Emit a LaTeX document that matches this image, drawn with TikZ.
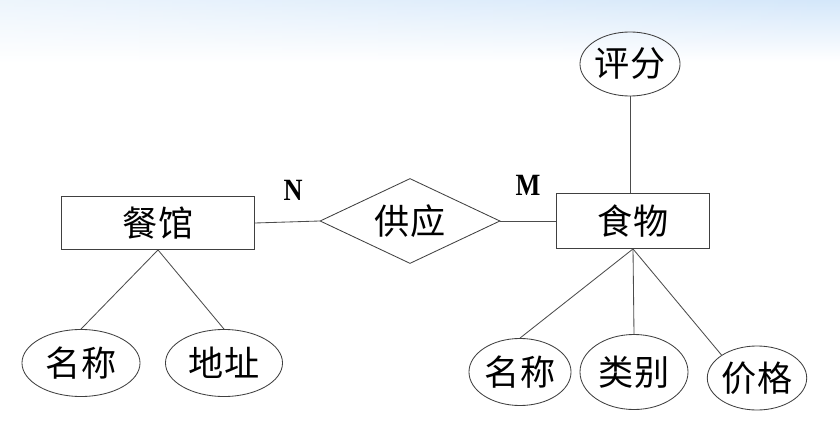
\documentclass[tikz,border=0pt]{standalone}
\usepackage{fontspec}
\newfontfamily\cjk{Noto Sans CJK SC}
\newfontfamily\latin{Liberation Serif}
\usetikzlibrary{shapes.geometric,fadings}

\definecolor{slideblue}{RGB}{212,231,250}
\tikzset{
  entity/.style={draw=black!75,line width=0.6pt,rectangle,inner sep=0pt,
    font=\cjk\fontsize{25}{28}\selectfont},
  attr/.style={draw=black!75,line width=0.6pt,ellipse,inner sep=0pt,
    font=\cjk\fontsize{25}{28}\selectfont},
  rel/.style={draw=black!75,line width=0.6pt,diamond,aspect=2.1,inner sep=0pt,
    minimum width=4.5cm,minimum height=2.125cm,font=\cjk\fontsize{25}{28}\selectfont},
  link/.style={draw=black!70,line width=0.6pt},
  card/.style={font=\latin\bfseries\fontsize{22}{24}\selectfont,xscale=0.85}
}

\begin{document}
\begin{tikzpicture}[x=0.025cm,y=-0.025cm]
\useasboundingbox (0,0) rectangle (840,446);
\shade[top color=slideblue,bottom color=white] (0,0) rectangle (840,62);
\fill[white,fill opacity=0.6,path fading=east] (0,0) rectangle (840,62);

% entities and relation
\node[entity,minimum width=4.825cm,minimum height=1.325cm] (canguan) at (158,223) {餐馆};
\node[rel] (gongying) at (410,221) {供应};
\node[entity,minimum width=3.825cm,minimum height=1.375cm] (shiwu) at (633,221) {食物};
\node[card] (n) at (293,190) {N};
\node[card] (m) at (528,185) {M};

% attributes
\node[attr,minimum width=2.5cm,minimum height=1.6cm] (pingfen) at (630,64) {评分};
\node[attr,minimum width=2.95cm,minimum height=1.675cm] (mingchengA) at (81,363) {名称};
\node[attr,minimum width=2.925cm,minimum height=1.675cm] (dizhi) at (224,363) {地址};
\node[attr,minimum width=2.55cm,minimum height=1.675cm] (mingchengB) at (520,372) {名称};
\node[attr,minimum width=2.7cm,minimum height=1.875cm] (leibie) at (634,372) {类别};
\node[attr,minimum width=2.425cm,minimum height=1.6cm] (jiage) at (757,378) {价格};

\draw[link] (canguan.east) -- (gongying.west);
\draw[link] (gongying.east) -- (shiwu.west);
\draw[link] (pingfen.south) -- (shiwu.north -| pingfen.south);
\draw[link] (canguan.south) -- (mingchengA.north);
\draw[link] (canguan.south) -- (dizhi.north);
\draw[link] (shiwu.south) -- (mingchengB.north);
\draw[link] (shiwu.south) -- (leibie.north);
\draw[link] (shiwu.south) -- (jiage.north west);
\end{tikzpicture}
\end{document}
